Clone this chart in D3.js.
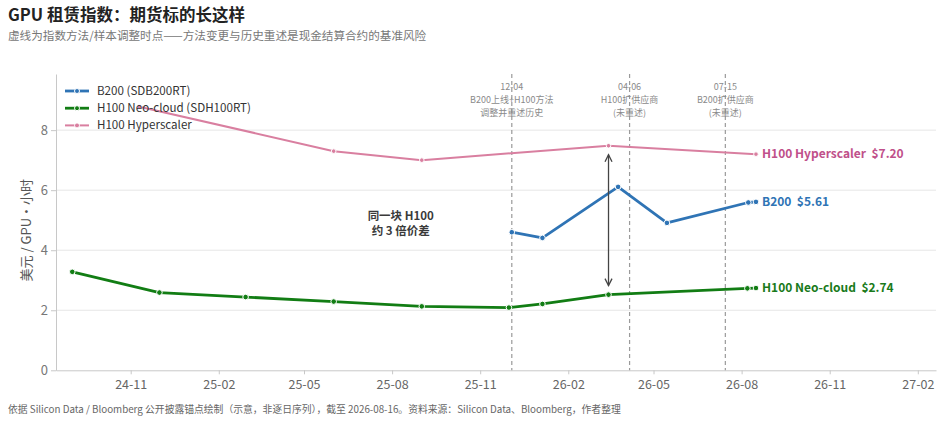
<!DOCTYPE html>
<html>
<head>
<meta charset="utf-8">
<script src="https://cdn.jsdelivr.net/npm/d3@7"></script>
<style>
  html, body { margin: 0; padding: 0; background: #fff; }
  svg { display: block; font-family: "Noto Sans CJK SC", "Noto Sans", sans-serif; }
  .pre { white-space: pre; }
</style>
</head>
<body>
<svg id="chart" width="945" height="421"></svg>
<script>
// ---------------- data ----------------
const seriesNames = ["B200 (SDB200RT)", "H100 Neo-cloud (SDH100RT)", "H100 Hyperscaler"];
const endLabels = ["B200  $5.61", "H100 Neo-cloud  $2.74", "H100 Hyperscaler  $7.20"];

const b200Dates  = ["2025-12-04", "2026-01-05", "2026-03-25", "2026-05-15", "2026-08-08", "2026-08-16"];
const b200Values = [4.60, 4.41, 6.11, 4.91, 5.59, 5.61];

const neoDates  = ["2024-09-01", "2024-12-01", "2025-03-01", "2025-06-01", "2025-09-01", "2025-12-01", "2026-01-05", "2026-03-15", "2026-08-07", "2026-08-16"];
const neoValues = [3.28, 2.59, 2.44, 2.29, 2.13, 2.09, 2.21, 2.52, 2.73, 2.74];

const hyperDates  = ["2024-11-10", "2025-06-01", "2025-09-01", "2026-03-15", "2026-08-16"];
const hyperValues = [8.78, 7.30, 7.00, 7.48, 7.20];

const eventDates = ["2025-12-04", "2026-04-06", "2026-07-15"];
const eventLabels = [
  ["12-04", "B200上线+H100方法", "调整并重述历史"],
  ["04-06", "H100扩供应商", "(未重述)"],
  ["07-15", "B200扩供应商", "(未重述)"]
];

const xTickDates = ["2024-11-01", "2025-02-01", "2025-05-01", "2025-08-01", "2025-11-01", "2026-02-01", "2026-05-01", "2026-08-01", "2026-11-01", "2027-02-01"];
const yTickValues = [0, 2, 4, 6, 8];
const xDomain = ["2024-08-15", "2027-02-20"];
const yDomain = [0, 9.87];

const arrowDate = "2026-03-15";
const arrowFrom = 7.48, arrowTo = 2.52;
const gapNoteDate = "2025-08-10";
const gapNoteValue = 4.9;
const gapNoteLines = ["同一块 H100", "约 3 倍价差"];

const titleText = "GPU 租赁指数：期货标的长这样";
const subtitleText = "虚线为指数方法/样本调整时点——方法变更与历史重述是现金结算合约的基准风险";
const footerText = "依据 Silicon Data / Bloomberg 公开披露锚点绘制（示意，非逐日序列），截至 2026-08-16。资料来源：Silicon Data、Bloomberg，作者整理";
const yAxisTitle = "美元 / GPU·小时";

// ---------------- layout / style ----------------
const parse = d3.utcParse("%Y-%m-%d");
const fmt = d3.utcFormat("%y-%m");
const M = { left: 56, right: 936, top: 74, bottom: 370.3 };
const colors = ["#2f74b5", "#127d14", "#d97fa0"];
const labelColors = ["#2f74b5", "#1a7a1a", "#c0508a"];
const widths = [2.8, 2.8, 2.0];
const FONT = "'Noto Sans CJK SC', 'Noto Sans', sans-serif";

const svg = d3.select("#chart");

const x = d3.scaleUtc().domain(xDomain.map(parse)).range([M.left, M.right]);
const y = d3.scaleLinear().domain(yDomain).range([M.bottom, M.top]);

const series = [
  b200Dates.map((d, i) => ({ date: parse(d), value: b200Values[i] })),
  neoDates.map((d, i) => ({ date: parse(d), value: neoValues[i] })),
  hyperDates.map((d, i) => ({ date: parse(d), value: hyperValues[i] }))
];

// title
svg.append("text").attr("x", 8).attr("y", 21).attr("font-size", 16.5).attr("font-weight", 700)
  .attr("fill", "#222").text(titleText);
svg.append("text").attr("x", 8).attr("y", 40).attr("font-size", 11.6).attr("fill", "#777").text(subtitleText);

// grid
svg.append("g").selectAll("line").data(yTickValues.filter(v => v > 0)).join("line")
  .attr("x1", M.left).attr("x2", M.right)
  .attr("y1", d => y(d)).attr("y2", d => y(d))
  .attr("stroke", "#e6e6e6").attr("stroke-width", 1);

// axes
const xAxis = svg.append("g").attr("transform", `translate(0,${M.bottom})`)
  .call(d3.axisBottom(x).tickValues(xTickDates.map(parse)).tickFormat(fmt).tickSize(4).tickSizeOuter(0));
xAxis.select(".domain").attr("stroke", "#c8c8c8");
xAxis.selectAll(".tick line").attr("stroke", "#c8c8c8");
xAxis.selectAll(".tick text").attr("fill", "#666").attr("font-size", 12.5).attr("dy", "0.95em")
  .attr("font-family", FONT);

const yAxis = svg.append("g").attr("transform", `translate(${M.left},0)`)
  .call(d3.axisLeft(y).tickValues(yTickValues).tickSize(5).tickSizeOuter(0));
yAxis.select(".domain").attr("stroke", "#c8c8c8");
yAxis.selectAll(".tick line").attr("stroke", "#c8c8c8");
yAxis.selectAll(".tick text").attr("fill", "#777").attr("font-size", 13).attr("x", -8)
  .attr("font-family", FONT);

svg.append("text").attr("transform", `translate(31,${(M.top + M.bottom) / 2 + 8}) rotate(-90)`)
  .attr("text-anchor", "middle").attr("font-size", 13).attr("fill", "#555").text(yAxisTitle);

// event dashed lines
const ev = svg.append("g");
eventDates.forEach((d, i) => {
  const xx = x(parse(d));
  ev.append("line").attr("x1", xx).attr("x2", xx).attr("y1", M.top).attr("y2", M.bottom)
    .attr("stroke", "#9a9a9a").attr("stroke-width", 1.2).attr("stroke-dasharray", "4,3");
  const t = ev.append("text").attr("text-anchor", "middle").attr("font-size", 9).attr("fill", "#8a8a8a");
  eventLabels[i].forEach((s, j) => {
    t.append("tspan").attr("x", xx).attr("y", 89.5 + j * 13).text(s);
  });
});

// lines
const line = d3.line().x(d => x(d.date)).y(d => y(d.value));
series.forEach((s, i) => {
  svg.append("path").datum(s).attr("d", line).attr("fill", "none")
    .attr("stroke", colors[i]).attr("stroke-width", widths[i]).attr("stroke-linejoin", "round");
});
series.forEach((s, i) => {
  svg.append("g").selectAll("circle").data(s).join("circle")
    .attr("cx", d => x(d.date)).attr("cy", d => y(d.value))
    .attr("r", i === 2 ? 2.3 : 2.8).attr("fill", colors[i]).attr("stroke", "#fff").attr("stroke-width", 1);
});

// end labels
series.forEach((s, i) => {
  const last = s[s.length - 1];
  svg.append("text").attr("class", "pre").attr("x", x(last.date) + 6).attr("y", y(last.value))
    .attr("dy", "0.35em").attr("font-size", 12).attr("font-weight", 700)
    .attr("fill", labelColors[i]).text(endLabels[i]);
});

// double arrow
const ax = x(parse(arrowDate));
const y1 = y(arrowFrom) + 9, y2 = y(arrowTo) - 9;
const ag = svg.append("g").attr("stroke", "#444").attr("stroke-width", 1.3).attr("fill", "none");
ag.append("line").attr("x1", ax).attr("x2", ax).attr("y1", y1).attr("y2", y2);
ag.append("path").attr("d", `M${ax - 3.5},${y1 + 7}L${ax},${y1}L${ax + 3.5},${y1 + 7}`);
ag.append("path").attr("d", `M${ax - 3.5},${y2 - 7}L${ax},${y2}L${ax + 3.5},${y2 - 7}`);

// gap note
const gn = svg.append("text").attr("text-anchor", "middle").attr("font-size", 11.5).attr("font-weight", 700)
  .attr("fill", "#3a3a3a");
gapNoteLines.forEach((t, j) => {
  gn.append("tspan").attr("x", x(parse(gapNoteDate))).attr("y", y(gapNoteValue) - 3 + j * 14.5).text(t);
});

// legend
const lg = svg.append("g");
seriesNames.forEach((n, i) => {
  const ly = 91 + i * 17.2;
  lg.append("line").attr("x1", 65).attr("x2", 89).attr("y1", ly).attr("y2", ly)
    .attr("stroke", colors[i]).attr("stroke-width", widths[i]);
  lg.append("circle").attr("cx", 77).attr("cy", ly).attr("r", 2.5)
    .attr("fill", colors[i]).attr("stroke", "#fff").attr("stroke-width", 1);
  lg.append("text").attr("x", 97).attr("y", ly).attr("dy", "0.35em").attr("font-size", 11.6)
    .attr("fill", "#333").text(n);
});

// footer
svg.append("text").attr("x", 8).attr("y", 413).attr("font-size", 9.8).attr("fill", "#666").text(footerText);
</script>
</body>
</html>
